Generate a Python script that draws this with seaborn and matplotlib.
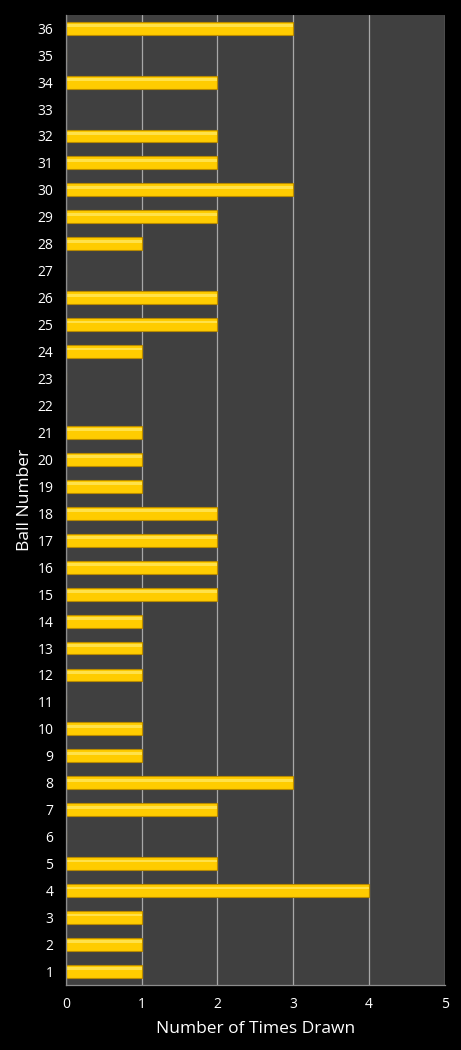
import pandas as pd
import seaborn as sns
import matplotlib.pyplot as plt

balls = list(range(1, 37))
times_drawn = [1, 1, 1, 4, 2, 0, 2, 3, 1, 1,
               0, 1, 1, 1, 2, 2, 2, 2, 1, 1,
               1, 0, 0, 1, 2, 2, 0, 1, 2, 3,
               2, 2, 0, 2, 0, 3]
x_ticks = [0, 1, 2, 3, 4, 5]

df = pd.DataFrame({"ball": [str(b) for b in balls], "times": times_drawn})
order = [str(b) for b in reversed(balls)]

sns.set_style("dark")
plt.rcParams['font.family'] = ['Open Sans', 'DejaVu Sans']

fig = plt.figure(figsize=(4.61, 10.5), dpi=100, facecolor="black")
ax = fig.add_axes([0.143, 0.062, 0.822, 0.924])
ax.set_facecolor("#404040")

sns.barplot(data=df, x="times", y="ball", order=order, color="#FFCC00",
            saturation=1, width=0.48, edgecolor="#B88A00", linewidth=0.8, ax=ax)

# thin lighter band near the top of each bar for the glossy look
for p in list(ax.patches):
    w = p.get_width()
    if w > 0:
        ax.barh(p.get_y() + p.get_height() * 0.3, w, height=p.get_height() * 0.22,
                color="#FFE14A", linewidth=0, zorder=p.get_zorder() + 0.1)

ax.set_xlim(0, 5)
ax.set_ylim(len(order) - 0.5, -0.5)
ax.set_xticks(x_ticks)
ax.set_axisbelow(True)
ax.grid(axis="x", color="#A8A8A8", linewidth=0.9)
ax.grid(axis="y", visible=False)

for side in ["top", "right"]:
    ax.spines[side].set_visible(False)
for side in ["left", "bottom"]:
    ax.spines[side].set_color("#8C8C8C")
    ax.spines[side].set_linewidth(0.9)

ax.tick_params(colors="white", labelsize=10, length=0, pad=9)
ax.set_xlabel("Number of Times Drawn", color="white", fontsize=12.5, labelpad=6)
ax.set_ylabel("Ball Number", color="white", fontsize=12.5, labelpad=3)

fig.savefig("out.png", dpi=100, facecolor="black")
